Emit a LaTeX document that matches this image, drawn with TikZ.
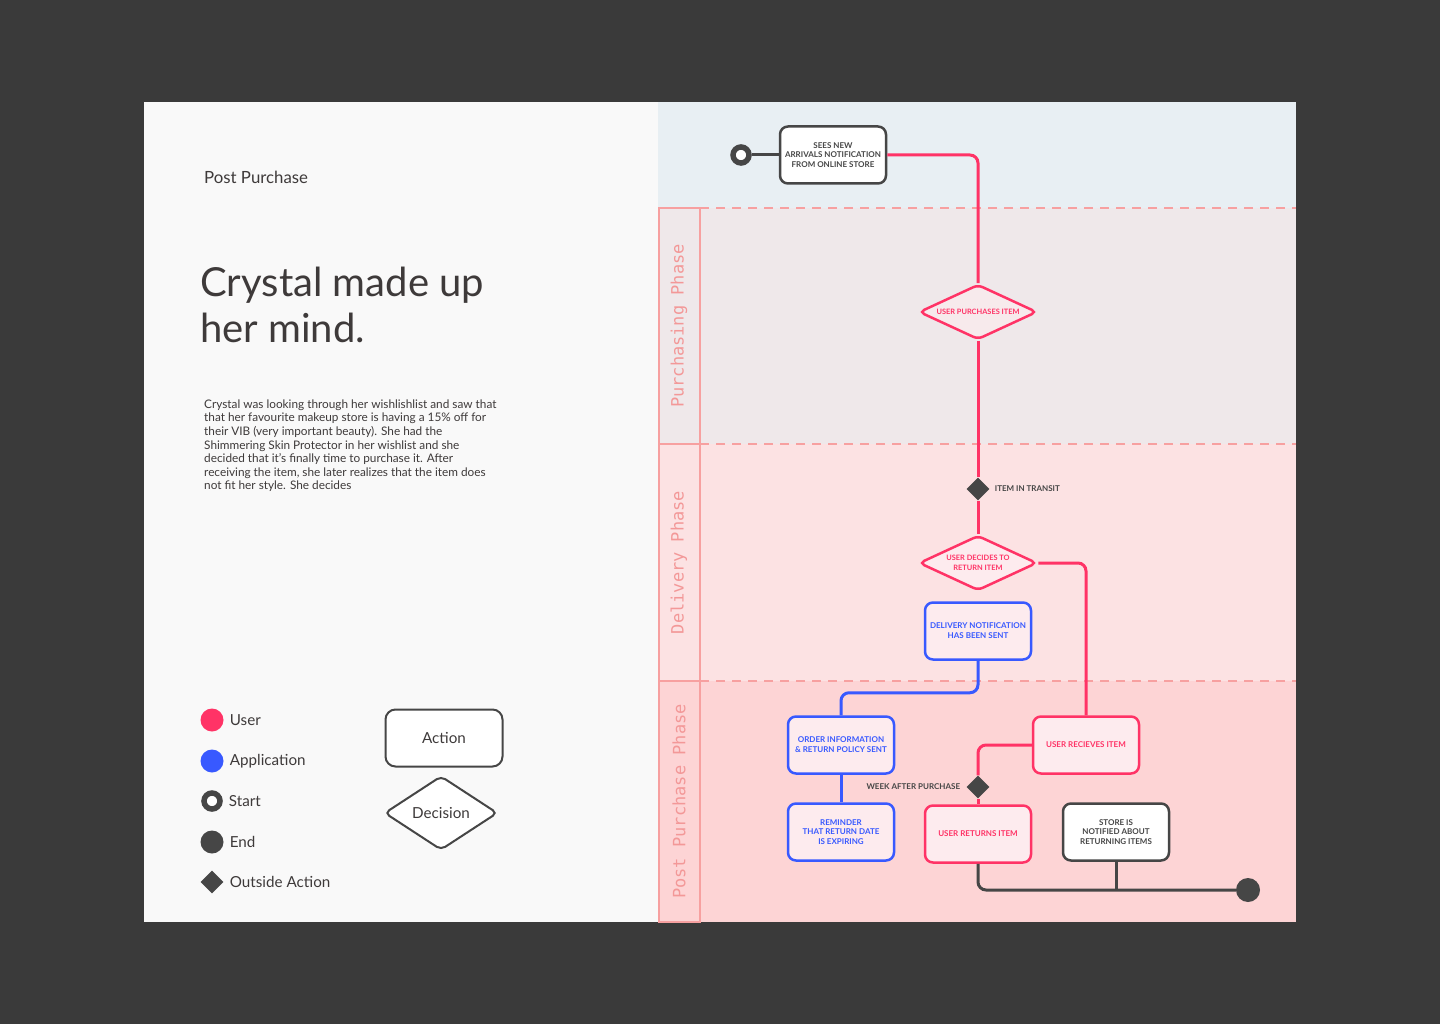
\documentclass[tikz,border=0pt]{standalone}
\usepackage{fontspec}
\setmainfont{Lato}
\setmonofont{DejaVu Sans Mono}
\usetikzlibrary{shapes.geometric,positioning}
\definecolor{bgdark}{HTML}{3A3A3A}
\definecolor{paper}{HTML}{F9F9F9}
\definecolor{inkdark}{HTML}{464646}
\definecolor{textgrey}{HTML}{3E3A3A}
\definecolor{usercol}{HTML}{FF3366}
\definecolor{appcol}{HTML}{3859FF}
\definecolor{bandtop}{HTML}{E8EFF3}
\definecolor{bandbuy}{HTML}{EFE8EA}
\definecolor{bandship}{HTML}{FCE2E3}
\definecolor{bandpost}{HTML}{FDD4D5}
\definecolor{phaseline}{HTML}{F7A0A0}
\definecolor{phasetext}{HTML}{F39898}
\definecolor{boxfill}{HTML}{FDEBEE}
\tikzset{
  flowtext/.style={font=\fontsize{8}{9.8}\selectfont\bfseries},
  action/.style={rectangle, rounded corners=8pt, line width=2.5pt, minimum width=106pt, minimum height=57pt, inner sep=0pt, align=center, flowtext},
  useraction/.style={action, draw=usercol, fill=boxfill, text=usercol},
  appaction/.style={action, draw=appcol, fill=boxfill, text=appcol},
  outaction/.style={action, draw=inkdark, fill=white, text=inkdark},
  decision/.style={diamond, aspect=2.4, rounded corners=5pt, draw=usercol, line width=2.5pt, fill=boxfill, text=usercol, minimum width=118pt, minimum height=55pt, inner sep=0pt, align=center, font=\fontsize{7.4}{9.4}\selectfont\bfseries},
  outside/.style={diamond, fill=inkdark, minimum size=23pt, inner sep=0pt},
  startdot/.style={circle, draw=inkdark, line width=5.5pt, fill=white, minimum size=16pt, inner sep=0pt},
  enddot/.style={circle, fill=inkdark, minimum size=24pt, inner sep=0pt},
  userline/.style={draw=usercol, line width=3pt, rounded corners=8pt},
  appline/.style={draw=appcol, line width=3pt, rounded corners=8pt},
  inkline/.style={draw=inkdark, line width=3pt, rounded corners=8pt},
  phasebox/.style={draw=phaseline, line width=2pt, rotate=90, minimum height=41pt, inner sep=0pt, text=phasetext, font=\ttfamily\fontsize{17}{17}\selectfont},
  phasedash/.style={draw=phaseline, line width=2pt, dash pattern=on 9pt off 7pt},
  legendtext/.style={anchor=west, inner sep=0pt, text=textgrey, font=\fontsize{15.2}{17}\selectfont},
  sidelabel/.style={text=inkdark, inner sep=0pt, flowtext}
}
\begin{document}
\begin{tikzpicture}[x=1pt,y=-1pt]
\fill[bgdark] (0,0) rectangle (1440,1024);
\fill[paper] (144,102) rectangle (658,922);
\fill[bandtop] (658,102) rectangle (1296,208);
\fill[bandbuy] (658,208) rectangle (1296,444);
\fill[bandship] (658,444) rectangle (1296,681);
\fill[bandpost] (658,681) rectangle (1296,922);

\node[anchor=base west, inner sep=0pt, text=textgrey, font=\fontsize{16.8}{18}\selectfont] (kicker) at (204,184) {Post Purchase};
\node[anchor=north west, inner sep=0pt, align=left, text=textgrey, font=\fontsize{40}{46}\selectfont] (headline) at (200,267) {Crystal made up\\her mind.};
\node[anchor=north west, inner sep=0pt, align=left, text=textgrey, font=\fontsize{11.8}{13.6}\selectfont] (story) at (204,399.5) {Crystal was looking through her wishlishlist and saw that\\that her favourite makeup store is having a 15\% off for\\their VIB (very important beauty). She had the\\Shimmering Skin Protector in her wishlist and she\\decided that it's finally time to purchase it. After\\receiving the item, she later realizes that the item does\\not fit her style. She decides};

\node[circle, fill=usercol, minimum size=23pt, inner sep=0pt] (keyuser) at (212,720) {};
\node[legendtext, right=6pt of keyuser] {User};
\node[circle, fill=appcol, minimum size=23pt, inner sep=0pt] (keyapp) at (212,761) {};
\node[legendtext, right=6pt of keyapp] {Application};
\node[startdot] (keystart) at (212,801) {};
\node[legendtext, right=6pt of keystart] {Start};
\node[enddot, minimum size=23pt] (keyend) at (212,842) {};
\node[legendtext, right=6pt of keyend] {End};
\node[outside] (keyout) at (212,882) {};
\node[legendtext, right=6pt of keyout] {Outside Action};
\node[rectangle, rounded corners=10pt, draw=inkdark, line width=2pt, fill=white, minimum width=117pt, minimum height=57pt, text=textgrey, font=\fontsize{15.2}{17}\selectfont] (keyaction) at (444,738) {Action};
\node[diamond, rounded corners=5pt, draw=inkdark, line width=2pt, fill=white, minimum width=113pt, minimum height=74pt, inner sep=0pt, text=textgrey, font=\fontsize{15.2}{17}\selectfont] (keydecision) at (441,813) {Decision};

\node[phasebox, fill=bandbuy, minimum width=236pt] (buyphase) at (679,326) {Purchasing Phase};
\node[phasebox, fill=bandship, minimum width=237pt] (shipphase) at (679,562.5) {Delivery Phase};
\node[phasebox, fill=bandpost, minimum width=241pt] (postphase) at (679,801.5) {Post Purchase Phase};
\draw[phasedash] (700,208) -- (1296,208);
\draw[phasedash] (700,444) -- (1296,444);
\draw[phasedash] (700,681) -- (1296,681);

\node[startdot] (start) at (741,155) {};
\node[outaction] (arrivals) at (833,155) {SEES NEW\\ARRIVALS NOTIFICATION\\FROM ONLINE STORE};
\node[decision, fill=boxfill!60!bandbuy] (purchase) at (978,312) {USER PURCHASES ITEM};
\node[outside] (transit) at (978,489) {};
\node[sidelabel, right=5pt of transit] {ITEM IN TRANSIT};
\node[decision] (decide) at (978,563) {USER DECIDES TO\\RETURN ITEM};
\node[appaction] (delivery) at (978,631) {DELIVERY NOTIFICATION\\HAS BEEN SENT};
\node[appaction] (order) at (841,745) {ORDER INFORMATION\\\& RETURN POLICY SENT};
\node[appaction] (reminder) at (841,832) {REMINDER\\THAT RETURN DATE\\IS EXPIRING};
\node[useraction] (received) at (1086,745) {USER RECIEVES ITEM};
\node[outside] (week) at (978,787) {};
\node[sidelabel, left=6pt of week] {WEEK AFTER PURCHASE};
\node[useraction] (returns) at (978,834) {USER RETURNS ITEM};
\node[outaction] (store) at (1116,832) {STORE IS\\NOTIFIED ABOUT\\RETURNING ITEMS};
\node[enddot] (finish) at (1248,890) {};

\draw[inkline] (start) -- (arrivals);
\draw[userline] (arrivals.east) -| (purchase.north);
\draw[userline] (purchase) -- (transit) -- (decide);
\draw[userline] (decide.east) -| (received.north);
\draw[appline] (delivery.south) -- ++(0,32) -| (order.north);
\draw[appline] (order) -- (reminder);
\draw[userline] (received.west) -| (week.north);
\draw[userline] (week) -- (returns);
\draw[inkline] (returns.south) |- (finish);
\draw[inkline] (store.south) -- (store.south |- finish.center);
\end{tikzpicture}
\end{document}
